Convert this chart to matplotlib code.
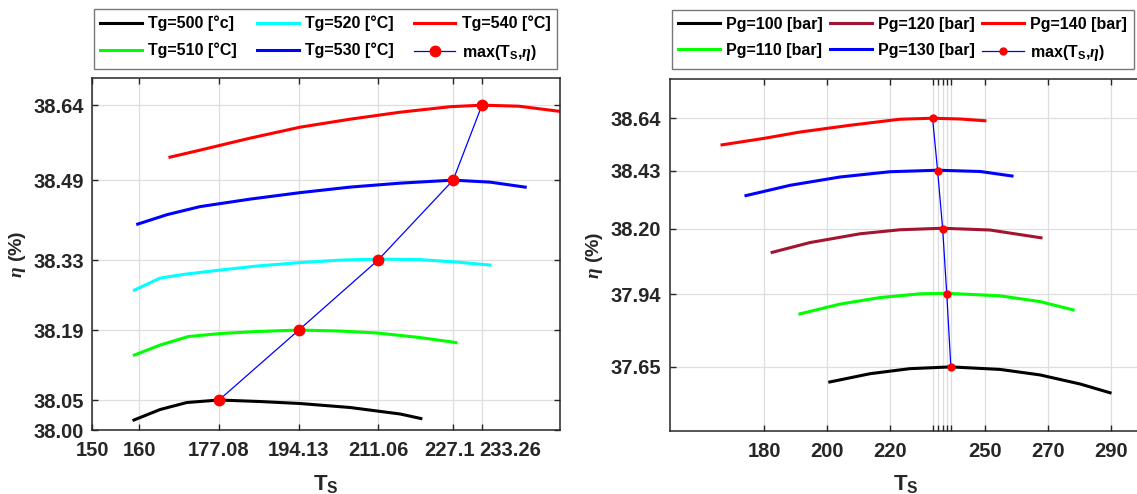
import matplotlib
matplotlib.use("Agg")
import matplotlib.pyplot as plt
from matplotlib.transforms import ScaledTranslation

plt.rcParams['font.family'] = ['Liberation Sans', 'DejaVu Sans']
plt.rcParams['font.weight'] = 'bold'
plt.rcParams['mathtext.fontset'] = 'custom'
plt.rcParams['mathtext.rm'] = 'Liberation Sans:bold'
plt.rcParams['mathtext.bf'] = 'Liberation Sans:bold'
plt.rcParams['mathtext.it'] = 'Liberation Serif:italic'

# ---------------- Left panel data (Tg series) ----------------
ts_500 = [158.9, 164.5, 170.2, 177.08, 185.8, 194.4, 205.1, 215.8, 220.2]
eta_500 = [38.010, 38.031, 38.045, 38.050, 38.047, 38.043, 38.035, 38.022, 38.013]

ts_510 = [159.0, 164.5, 170.5, 177.3, 185.0, 194.13, 203.0, 211.0, 220.0, 227.7]
eta_510 = [38.140, 38.160, 38.177, 38.183, 38.187, 38.190, 38.188, 38.184, 38.175, 38.165]

ts_520 = [159.0, 164.5, 170.0, 177.3, 185.0, 194.4, 203.0, 211.06, 220.0, 228.0, 235.0]
eta_520 = [38.270, 38.294, 38.302, 38.310, 38.318, 38.325, 38.330, 38.332, 38.331, 38.326, 38.320]

ts_530 = [159.7, 166.0, 173.0, 183.7, 194.4, 205.0, 215.8, 227.1, 235.0, 242.5]
eta_530 = [38.402, 38.421, 38.437, 38.452, 38.465, 38.476, 38.484, 38.490, 38.486, 38.476]

ts_540 = [166.6, 173.0, 183.7, 194.4, 205.1, 215.8, 226.5, 233.26, 241.1, 249.6]
eta_540 = [38.536, 38.550, 38.574, 38.596, 38.612, 38.626, 38.637, 38.640, 38.638, 38.628]

max_ts_left = [177.08, 194.13, 211.06, 227.1, 233.26]
max_eta_left = [38.05, 38.19, 38.33, 38.49, 38.64]

left_xticks = [150, 160, 177.08, 194.13, 211.06, 227.1, 233.26]
left_xticklabels = ['150', '160', '177.08', '194.13', '211.06', '227.1', '233.26']
left_yticks = [37.99, 38.05, 38.19, 38.33, 38.49, 38.64]
left_yticklabels = ['38.00', '38.05', '38.19', '38.33', '38.49', '38.64']

# ---------------- Right panel data (Pg series) ----------------
ts_100 = [200.8, 213.6, 226.2, 239.2, 254.8, 267.5, 280.2, 289.7]
eta_100 = [37.590, 37.623, 37.643, 37.650, 37.640, 37.618, 37.582, 37.547]

ts_110 = [191.3, 204.0, 216.7, 229.4, 237.9, 254.8, 267.5, 278.0]
eta_110 = [37.861, 37.900, 37.926, 37.941, 37.943, 37.933, 37.910, 37.877]

ts_120 = [182.5, 194.5, 210.4, 223.1, 236.6, 251.6, 267.8]
eta_120 = [38.106, 38.145, 38.180, 38.196, 38.202, 38.195, 38.164]

ts_130 = [174.2, 188.2, 204.0, 219.9, 235.0, 248.5, 258.6]
eta_130 = [38.332, 38.373, 38.406, 38.427, 38.433, 38.428, 38.410]

ts_140 = [166.6, 180.0, 191.3, 207.2, 223.0, 233.4, 242.1, 250.0]
eta_140 = [38.534, 38.560, 38.585, 38.612, 38.636, 38.640, 38.637, 38.630]

max_ts_right = [233.4, 235.0, 236.6, 237.9, 239.2]
max_eta_right = [38.64, 38.43, 38.20, 37.94, 37.65]

right_xticks = [180, 200, 220, 233.4, 235.0, 236.6, 237.9, 239.2, 250, 270, 290]
right_xticklabels = ['180', '200', '220', '', '', '', '', '', '250', '270', '290']
right_yticks = [37.65, 37.94, 38.20, 38.43, 38.64]
right_yticklabels = ['37.65', '37.94', '38.20', '38.43', '38.64']

W, H = 1137, 494
fig = plt.figure(figsize=(W / 100, H / 100), dpi=100)

axL = fig.add_axes([92.3 / W, (H - 430) / H, (560.3 - 92.3) / W, (430 - 77.7) / H])
axR = fig.add_axes([669.7 / W, (H - 430.7) / H, (1142.5 - 669.7) / W, (430.7 - 79.3) / H])

lw = 2.2
text_col = '#262626'
maroon = (0.635, 0.078, 0.184)

def style(ax):
    ax.grid(True, color='#dedede', linewidth=0.9)
    ax.set_axisbelow(True)
    ax.tick_params(direction='in', length=4.5, width=1, top=True, right=True,
                   labelsize=14.5, colors=text_col)
    ax.tick_params(axis='x', pad=8)
    ax.tick_params(axis='y', pad=6)
    for s in ax.spines.values():
        s.set_color(text_col)
        s.set_linewidth(1.1)
    for lab in ax.get_xticklabels() + ax.get_yticklabels():
        lab.set_fontweight('bold')

def make_legend(ax, anchor):
    leg = ax.legend(loc='lower left', bbox_to_anchor=anchor,
                    mode='expand', ncol=3, fontsize=11.5, frameon=True, fancybox=False,
                    edgecolor='#555555', handlelength=2.6, handletextpad=0.4,
                    borderpad=0.4, labelspacing=0.7, borderaxespad=0, columnspacing=1.0)
    leg.get_frame().set_linewidth(1.0)
    for t in leg.get_texts():
        t.set_fontweight('bold')
    return leg

# Left panel
axL.plot(ts_500, eta_500, color='black', lw=lw, label='Tg=500 [°c]')
axL.plot(ts_510, eta_510, color=(0, 1, 0), lw=lw, label='Tg=510 [°C]')
axL.plot(ts_520, eta_520, color=(0, 1, 1), lw=lw, label='Tg=520 [°C]')
axL.plot(ts_530, eta_530, color=(0, 0, 1), lw=lw, label='Tg=530 [°C]')
axL.plot(ts_540, eta_540, color=(1, 0, 0), lw=lw, label='Tg=540 [°C]')
axL.plot(max_ts_left, max_eta_left, color=(0, 0, 1), lw=0.9, marker='o',
         markersize=7.5, markerfacecolor='red', markeredgecolor='red',
         label=r'max(T$_\mathbf{S}$,$\eta$)')
axL.set_xlim(150, 250)
axL.set_ylim(37.99, 38.695)
axL.set_xticks(left_xticks)
axL.set_xticklabels(left_xticklabels)
axL.set_yticks(left_yticks)
axL.set_yticklabels(left_yticklabels)
style(axL)
axL.set_xlabel(r'T$_\mathbf{S}$', fontsize=16, fontweight='bold', color=text_col, labelpad=9)
axL.set_ylabel(r'$\eta$ (%)', fontsize=14, fontweight='bold', color=text_col, labelpad=4)
make_legend(axL, (0.0036, 1.0247, 0.989, 0.16))

# nudge the two crowded labels apart, as in the reference
xt = axL.xaxis.get_major_ticks()
xt[5].label1.set_transform(xt[5].label1.get_transform() +
                           ScaledTranslation(-4 / 100, 0, fig.dpi_scale_trans))
xt[6].label1.set_transform(xt[6].label1.get_transform() +
                           ScaledTranslation(28 / 100, 0, fig.dpi_scale_trans))

# Right panel
axR.plot(ts_100, eta_100, color='black', lw=lw, label='Pg=100 [bar]')
axR.plot(ts_110, eta_110, color=(0, 1, 0), lw=lw, label='Pg=110 [bar]')
axR.plot(ts_120, eta_120, color=maroon, lw=lw, label='Pg=120 [bar]')
axR.plot(ts_130, eta_130, color=(0, 0, 1), lw=lw, label='Pg=130 [bar]')
axR.plot(ts_140, eta_140, color=(1, 0, 0), lw=lw, label='Pg=140 [bar]')
axR.plot(max_ts_right, max_eta_right, color=(0, 0, 1), lw=0.9, marker='o',
         markersize=5, markerfacecolor='red', markeredgecolor='red',
         label=r'max(T$_\mathbf{S}$,$\eta$)')
axR.set_xlim(150, 300)
axR.set_ylim(37.396, 38.795)
axR.set_xticks(right_xticks)
axR.set_xticklabels(right_xticklabels)
axR.set_yticks(right_yticks)
axR.set_yticklabels(right_yticklabels)
style(axR)
axR.set_xlabel(r'T$_\mathbf{S}$', fontsize=16, fontweight='bold', color=text_col, labelpad=9)
axR.set_ylabel(r'$\eta$ (%)', fontsize=14, fontweight='bold', color=text_col, labelpad=4)
make_legend(axR, (0.005, 1.029, 0.976, 0.16))

fig.savefig('out.png', dpi=100)
